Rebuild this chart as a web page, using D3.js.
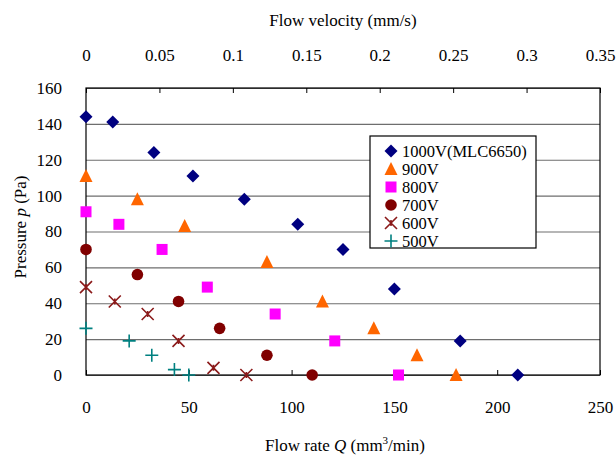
<!DOCTYPE html>
<html><head><meta charset="utf-8">
<script src="https://cdn.jsdelivr.net/npm/d3@7"></script>
<style>
body{margin:0;background:#fff;}
text{font-family:"Liberation Serif","Times New Roman",serif;fill:#000;}
</style></head>
<body><svg id="c" width="616" height="459"></svg>
<script>
// ---- data ----
const seriesNames = ["1000V(MLC6650)","900V","800V","700V","600V","500V"];
const q1000 = [0, 13, 33, 52, 77, 103, 125, 150, 182, 210];
const p1000 = [144, 141, 124, 111, 98, 84, 70, 48, 19, 0];
const q900 = [0, 25, 48, 88, 115, 140, 161, 180];
const p900 = [111, 98, 83, 63, 41, 26, 11, 0];
const q800 = [0, 16, 37, 59, 92, 121, 152];
const p800 = [91, 84, 70, 49, 34, 19, 0];
const q700 = [0, 25, 45, 65, 88, 110];
const p700 = [70, 56, 41, 26, 11, 0];
const q600 = [0, 14, 30, 45, 62, 78];
const p600 = [49, 41, 34, 19, 4, 0];
const q500 = [0, 21, 32, 43, 50];
const p500 = [26, 19, 11, 3, 0];
const xTicks = [0, 50, 100, 150, 200, 250];
const yTicks = [0, 20, 40, 60, 80, 100, 120, 140, 160];
const topTicks = [0, 0.05, 0.1, 0.15, 0.2, 0.25, 0.3, 0.35];

const seriesQ = [q1000,q900,q800,q700,q600,q500];
const seriesP = [p1000,p900,p800,p700,p600,p500];
const colors = ["#000080","#FF6600","#FF00FF","#800000","#8B1A1A","#008080"];
const shapes = ["diamond","triangle","square","circle","asterisk","plus"];

// ---- layout ----
const L=86, R=600, T=88, B=375;
const svg = d3.select("#c");
const x = d3.scaleLinear().domain([0,250]).range([L,R]);
const xTop = d3.scaleLinear().domain([0,0.35]).range([L,R]);
const y = d3.scaleLinear().domain([0,160]).range([B,T]);
const FS = 17;

// grid
svg.append("g").attr("transform",`translate(${L},0)`)
  .call(d3.axisLeft(y).tickValues(yTicks).tickSize(-(R-L)).tickFormat(""))
  .call(g=>g.select(".domain").remove())
  .call(g=>g.selectAll("line").attr("stroke","#6e6e6e").attr("stroke-width",1.2));

// frame
svg.append("rect").attr("x",L).attr("y",T).attr("width",R-L).attr("height",B-T)
  .attr("fill","none").attr("stroke","#000").attr("stroke-width",1.2);

// bottom axis
svg.append("g").attr("transform",`translate(0,${B})`)
  .call(d3.axisBottom(x).tickValues(xTicks).tickSizeInner(-5).tickSizeOuter(0).tickPadding(26))
  .call(g=>g.select(".domain").remove())
  .call(g=>g.selectAll("line").attr("stroke","#000"))
  .call(g=>g.selectAll("text").style("font-size",FS+"px").attr("font-family",null));

// top axis
svg.append("g").attr("transform",`translate(0,${T})`)
  .call(d3.axisTop(xTop).tickValues(topTicks).tickSizeInner(-5).tickSizeOuter(0).tickPadding(27).tickFormat(d=>String(+d.toFixed(2))))
  .call(g=>g.select(".domain").remove())
  .call(g=>g.selectAll("line").attr("stroke","#000"))
  .call(g=>g.selectAll("text").style("font-size",FS+"px").attr("font-family",null));

// left axis labels
svg.append("g").attr("transform",`translate(${L},0)`)
  .call(d3.axisLeft(y).tickValues(yTicks).tickSizeInner(0).tickSizeOuter(0).tickPadding(24))
  .call(g=>g.select(".domain").remove())
  .call(g=>g.selectAll("text").style("font-size",FS+"px").attr("font-family",null));

// titles
svg.append("text").attr("x",343).attr("y",26).attr("text-anchor","middle").style("font-size",FS+"px")
  .text("Flow velocity (mm/s)");
const xt = svg.append("text").attr("x",345).attr("y",451).attr("text-anchor","middle").style("font-size",FS+"px");
xt.append("tspan").text("Flow rate ");
xt.append("tspan").attr("font-style","italic").text("Q");
xt.append("tspan").text("  (mm");
xt.append("tspan").attr("dy",-7).style("font-size","11px").text("3");
xt.append("tspan").attr("dy",7).text("/min)");
const yt = svg.append("text").attr("transform","translate(26,227) rotate(-90)").attr("text-anchor","middle").style("font-size",FS+"px");
yt.append("tspan").text("Pressure ");
yt.append("tspan").attr("font-style","italic").text("p");
yt.append("tspan").text("  (Pa)");

// marker drawing
function marker(g, shape, color, cx, cy){
  const s = 6;
  if(shape==="diamond"){
    g.append("path").attr("d",`M${cx},${cy-s-0.5}L${cx+s+0.5},${cy}L${cx},${cy+s+0.5}L${cx-s-0.5},${cy}Z`).attr("fill",color);
  } else if(shape==="triangle"){
    g.append("path").attr("d",`M${cx},${cy-s-1}L${cx+s+0.5},${cy+s}L${cx-s-0.5},${cy+s}Z`).attr("fill",color);
  } else if(shape==="square"){
    g.append("rect").attr("x",cx-5.5).attr("y",cy-5.5).attr("width",11).attr("height",11).attr("fill",color);
  } else if(shape==="circle"){
    g.append("circle").attr("cx",cx).attr("cy",cy).attr("r",5.8).attr("fill",color);
  } else if(shape==="asterisk"){
    g.append("path").attr("d",`M${cx-6},${cy-6}L${cx+6},${cy+6}M${cx-6},${cy+6}L${cx+6},${cy-6}M${cx},${cy-3}L${cx},${cy+3}`)
      .attr("stroke",color).attr("stroke-width",1.6).attr("fill","none");
  } else if(shape==="plus"){
    g.append("path").attr("d",`M${cx-6.5},${cy}L${cx+6.5},${cy}M${cx},${cy-6.5}L${cx},${cy+6.5}`)
      .attr("stroke",color).attr("stroke-width",1.6).attr("fill","none");
  }
}

const pts = svg.append("g");
seriesQ.forEach((qs,i)=>{
  qs.forEach((q,j)=>marker(pts, shapes[i], colors[i], x(q), y(seriesP[i][j])));
});

// legend
const lg = svg.append("g");
lg.append("rect").attr("x",370).attr("y",136).attr("width",166).attr("height",112)
  .attr("fill","#fff").attr("stroke","#000").attr("stroke-width",1.2);
seriesNames.forEach((n,i)=>{
  const yy = 151 + i*18;
  marker(lg, shapes[i], colors[i], 391, yy);
  lg.append("text").attr("x",402).attr("y",yy+5.5).style("font-size","16.5px").text(n);
});
</script></body></html>
